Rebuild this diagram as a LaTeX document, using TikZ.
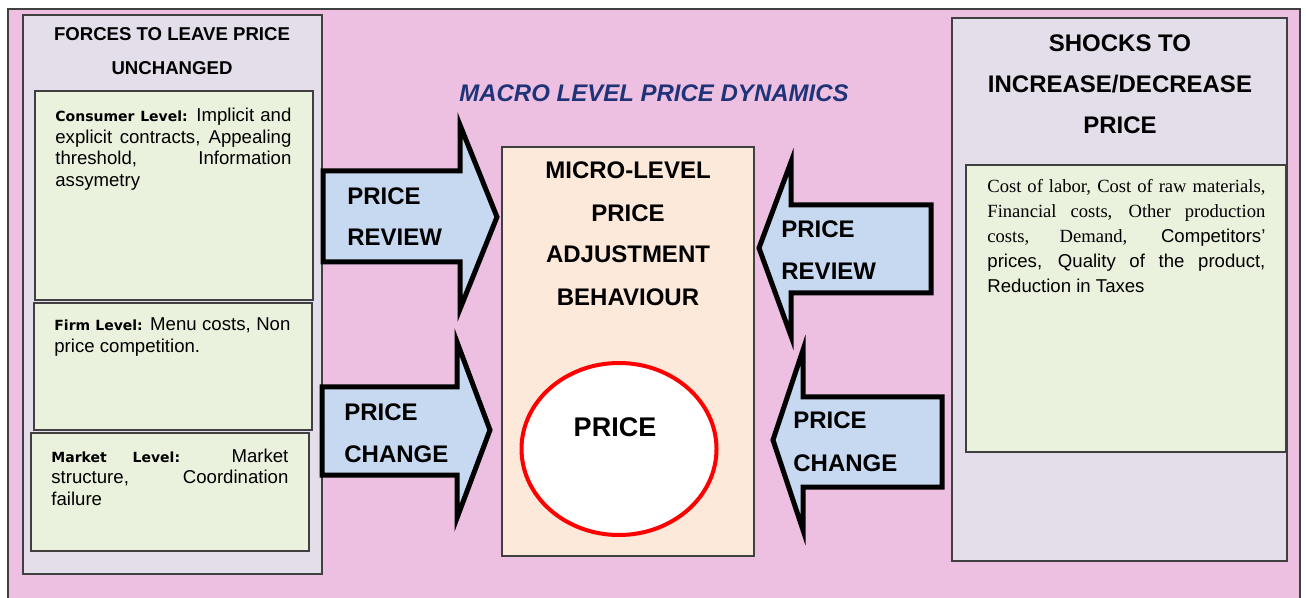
\documentclass[tikz,border=0pt]{standalone}
\usepackage{fontspec}
\setmainfont{Liberation Sans}
\newfontfamily\serifx{Liberation Serif}
\newfontfamily\verd{DejaVu Sans}
\usetikzlibrary{shapes.geometric}
\definecolor{pinkbg}{RGB}{237,192,225}
\definecolor{lavender}{RGB}{228,222,235}
\definecolor{greenc}{RGB}{234,241,221}
\definecolor{peach}{RGB}{253,233,217}
\definecolor{arrowblue}{RGB}{198,217,241}
\definecolor{navy}{RGB}{31,52,120}
\definecolor{edgegray}{RGB}{64,64,64}
\newcommand\lvl[1]{{\verd\bfseries\fontsize{7}{8}\selectfont #1}}
\tikzset{
  bigtxt/.style={font=\fontsize{12}{14}\selectfont\bfseries, inner sep=0pt},
  lbl/.style={anchor=base west, bigtxt},
  ctr/.style={anchor=base, bigtxt},
  blockarrow/.style={draw=black, fill=arrowblue, line width=2.5pt, miter limit=20},
  panel/.style={draw=edgegray, fill=lavender, line width=0.7pt},
  greenbox/.style={draw=edgegray, fill=greenc, line width=0.7pt},
  para/.style={anchor=base west, inner sep=0pt, font=\fontsize{9.3}{10.75}\selectfont}
}
\begin{document}
\begin{tikzpicture}[x=0.5pt,y=-0.5pt,line join=miter]
\useasboundingbox (0,0) rectangle (1306,598);
\clip (0,0) rectangle (1306,598);
\fill[white] (0,0) rectangle (1306,598);
% outer frame
\draw[draw=edgegray, fill=pinkbg, line width=0.8pt] (8,9) rectangle (1300,650);

% left panel
\draw[panel] (23,15) rectangle (322,574);
\draw[greenbox] (35,91) rectangle (313,300);
\draw[greenbox] (34,303) rectangle (312,430);
\draw[greenbox] (31,433) rectangle (309,551);
\node[anchor=base, inner sep=0pt, font=\fontsize{9.3}{11}\selectfont\bfseries] (lt1) at (172,41) {FORCES TO LEAVE PRICE};
\node[anchor=base, inner sep=0pt, font=\fontsize{9.3}{11}\selectfont\bfseries] (lt2) at (172,75) {UNCHANGED};
\node[para] (cons) at (55,122) {\parbox[t]{118pt}{\hyphenpenalty=10000 \lvl{Consumer Level:} Implicit and\linebreak explicit contracts, Appealing\linebreak threshold, Information\linebreak assymetry}};
\node[para] (firm) at (54,331) {\parbox[t]{118pt}{\hyphenpenalty=10000 \lvl{Firm Level:} Menu costs, Non\linebreak price competition.}};
\node[para] (mkt) at (51,462) {\parbox[t]{118.5pt}{\hyphenpenalty=10000 \lvl{Market Level:} Market\linebreak structure, Coordination\linebreak failure}};

% right panel
\draw[panel] (952,18) rectangle (1287,561);
\draw[greenbox] (966,165) rectangle (1286,452);
\node[ctr] (rt1) at (1120,52) {SHOCKS TO};
\node[ctr] (rt2) at (1120,93) {INCREASE/DECREASE};
\node[ctr] (rt3) at (1120,134) {PRICE};
\node[para, font=\fontsize{9.3}{12.4}\selectfont] (shk) at (987,193) {\parbox[t]{139pt}{\hyphenpenalty=10000 {\serifx Cost of labor, Cost of raw materials,\linebreak Financial costs, Other production\linebreak costs, Demand,} Competitors’\linebreak prices, Quality of the product,\linebreak Reduction in Taxes}};

% title
\node[anchor=base, inner sep=0pt, font=\fontsize{12}{14}\selectfont\bfseries\itshape, text=navy] (macro) at (654,102) {MACRO LEVEL PRICE DYNAMICS};

% centre box
\draw[draw=edgegray, fill=peach, line width=0.6pt] (502,147) rectangle (754,556);
\node[ctr] (m1) at (628,179) {MICRO-LEVEL};
\node[ctr] (m2) at (628,222) {PRICE};
\node[ctr] (m3) at (628,263) {ADJUSTMENT};
\node[ctr] (m4) at (628,306) {BEHAVIOUR};
\node[ellipse, draw=red, fill=white, line width=2pt, minimum width=97.5pt, minimum height=86pt, inner sep=0pt] (pricec) at (619,449) {};
\node[anchor=base, inner sep=0pt, font=\fontsize{13.5}{16}\selectfont\bfseries] (ptxt) at (615,437) {PRICE};

% block arrows
\draw[blockarrow] (323,171) -- (460,171) -- (460,125) -- (497,217) -- (460,309) -- (460,262) -- (323,262) -- cycle;
\draw[blockarrow] (322,387) -- (457,387) -- (457,342) -- (490,430) -- (457,518) -- (457,475) -- (322,475) -- cycle;
\draw[blockarrow] (931,205) -- (791,205) -- (791,162) -- (759,248) -- (791,336) -- (791,293) -- (931,293) -- cycle;
\draw[blockarrow] (942,397) -- (803,397) -- (803,350) -- (773,440) -- (803,530) -- (803,487) -- (942,487) -- cycle;

\node[lbl] (a1a) at (347,205) {PRICE};
\node[lbl] (a1b) at (347,246) {REVIEW};
\node[lbl] (a2a) at (344,421) {PRICE};
\node[lbl] (a2b) at (344,462) {CHANGE};
\node[lbl] (a3a) at (781,238) {PRICE};
\node[lbl] (a3b) at (781,280) {REVIEW};
\node[lbl] (a4a) at (793,429) {PRICE};
\node[lbl] (a4b) at (793,472) {CHANGE};
\end{tikzpicture}
\end{document}
